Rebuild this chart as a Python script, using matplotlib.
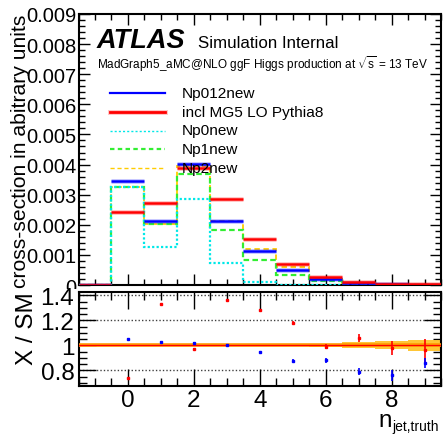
import numpy as np
import matplotlib
matplotlib.use("Agg")
import matplotlib.pyplot as plt
from matplotlib.ticker import MultipleLocator, FixedLocator, FixedFormatter
from matplotlib.patches import Rectangle

plt.rcParams['font.family'] = ['Liberation Sans', 'DejaVu Sans']
plt.rcParams['mathtext.fontset'] = 'custom'
plt.rcParams['mathtext.rm'] = 'Liberation Sans'
plt.rcParams['mathtext.it'] = 'Liberation Sans:italic'
plt.rcParams['mathtext.bf'] = 'Liberation Sans:bold'

# ---------------- data ----------------
bin_edges = [-1.5, -0.5, 0.5, 1.5, 2.5, 3.5, 4.5, 5.5, 6.5, 7.5, 8.5, 9.5]
bin_centers = [-1, 0, 1, 2, 3, 4, 5, 6, 7, 8, 9]

np012new = [0.0, 0.00344, 0.00211, 0.00403, 0.00213, 0.00112, 0.00051, 0.00021, 0.00006, 0.00002, 0.000005]
incl_mg5 = [0.0, 0.00243, 0.00273, 0.00387, 0.00287, 0.00154, 0.00070, 0.00025, 0.00009, 0.00003, 0.00002]
np0new = [0.0, 0.00327, 0.00126, 0.00286, 0.00072, 0.00010, 0.0, 0.0, 0.0, 0.0, 0.0]
np1new = [0.0, 0.00327, 0.00203, 0.00369, 0.00181, 0.00083, 0.00032, 0.00012, 0.00001, 0.0, 0.0]
np2new = [0.0, 0.00327, 0.00203, 0.00394, 0.00213, 0.00120, 0.00059, 0.00021, 0.00006, 0.00002, 0.0]

ratio_x = [0, 1, 2, 3, 4, 5, 6, 7, 8, 9]
ratio_red = [0.736, 1.33, 0.97, 1.366, 1.284, 1.181, 0.988, 1.059, 0.98, 0.96]
ratio_red_err = [0.005, 0.006, 0.006, 0.006, 0.008, 0.013, 0.02, 0.03, 0.054, 0.09]
ratio_blue = [1.05, 1.026, 1.018, 1.005, 0.945, 0.877, 0.88, 0.79, 0.762, 0.86]
ratio_blue_err = [0.005, 0.005, 0.005, 0.005, 0.008, 0.01, 0.02, 0.028, 0.044, 0.04]
band_halfwidth = [0.002, 0.002, 0.002, 0.002, 0.002, 0.003, 0.005, 0.013, 0.023, 0.033, 0.043]

legend_labels = ["Np012new", "incl MG5 LO Pythia8", "Np0new", "Np1new", "Np2new"]

# ---------------- figure ----------------
W, H = 443, 435
fig = plt.figure(figsize=(W / 100, H / 100), dpi=100)

def fx(px):
    return px / W

def fy(py):
    return 1 - py / H

L, R = 78.5, 441.0
ax1 = fig.add_axes([fx(L), fy(286), fx(R) - fx(L), fy(15) - fy(286)])
ax2 = fig.add_axes([fx(L), fy(387), fx(R) - fx(L), fy(292.5) - fy(387)])
ax1.set_zorder(0)
ax2.set_zorder(2)
# white lower pad region hides the lower part of the top panel's "0" label (as in ROOT)
fig.add_artist(Rectangle((0, 0), fx(L), fy(289.5), transform=fig.transFigure,
                         facecolor='white', edgecolor='none', zorder=1))

edges = np.array(bin_edges)
c_blue = '#0000FF'
c_red = '#FF0000'
c_cyan = '#00E8E8'
c_green = '#33EE33'
c_yellow = '#FFCC00'

# top panel histograms
ax1.stairs(np2new, edges, baseline=0, color=c_yellow, lw=1.3, ls=(0, (3, 2)), zorder=2)
ax1.stairs(np1new, edges, baseline=0, color=c_green, lw=1.6, ls=(0, (2.5, 1.5)), zorder=3)
ax1.stairs(np0new, edges, baseline=0, color=c_cyan, lw=1.6, ls=(0, (1, 1)), zorder=3)
ax1.hlines(np012new, edges[:-1], edges[1:], colors=c_blue, lw=3.6, alpha=0.22, zorder=4)
ax1.hlines(np012new, edges[:-1], edges[1:], colors=c_blue, lw=1.8, zorder=5)
ax1.hlines(incl_mg5, edges[:-1], edges[1:], colors=c_red, lw=3.6, alpha=0.22, zorder=4)
ax1.hlines(incl_mg5, edges[:-1], edges[1:], colors=c_red, lw=1.8, zorder=5)

ax1.set_xlim(-1.5, 9.5)
ax1.set_ylim(0, 0.009)
ax1.xaxis.set_major_locator(MultipleLocator(2))
ax1.xaxis.set_minor_locator(MultipleLocator(0.5))
ax1.yaxis.set_major_locator(MultipleLocator(0.001))
ax1.yaxis.set_minor_locator(MultipleLocator(0.0002))
ax1.yaxis.set_major_formatter(plt.FuncFormatter(lambda v, p: '0' if abs(v) < 1e-12 else f'{v:.3f}'))
ax1.tick_params(axis='both', which='both', direction='in', top=True, right=True, width=1.0)
ax1.tick_params(axis='both', which='major', length=8)
ax1.tick_params(axis='both', which='minor', length=4)
ax1.tick_params(axis='x', labelbottom=False)
ax1.tick_params(axis='y', labelsize=14.5, pad=1.5)
for s in ax1.spines.values():
    s.set_linewidth(1.5)

# legend drawn by hand
leg_y = [94, 113, 131.5, 150, 168.5]
leg_styles = [
    dict(color=c_blue, lw=1.6, ls='-'),
    dict(color=c_red, lw=2.0, ls='-'),
    dict(color=c_cyan, lw=1.0, ls=(0, (1.5, 1.5))),
    dict(color=c_green, lw=1.6, ls=(0, (2, 1.5))),
    dict(color=c_yellow, lw=1.0, ls=(0, (3, 2))),
]
for lab, yy, st in zip(legend_labels, leg_y, leg_styles):
    if st['color'] == c_red:
        fig.add_artist(plt.Line2D([fx(110), fx(165)], [fy(yy), fy(yy)], color=c_red, lw=3.6, alpha=0.22))
    fig.add_artist(plt.Line2D([fx(110), fx(165)], [fy(yy), fy(yy)], **st))
    fig.text(fx(182), fy(yy), lab, fontsize=11.1, va='center', ha='left')

# ATLAS labels
fig.text(fx(97), fy(48), 'ATLAS', fontsize=19.5, fontweight='bold', style='italic', va='baseline')
fig.text(fx(198), fy(48), 'Simulation Internal', fontsize=12.2, va='baseline')
fig.text(fx(97), fy(68.5), r'MadGraph5_aMC@NLO ggF Higgs production at $\sqrt{\mathrm{s}}$ = 13 TeV',
         fontsize=8.5, va='baseline')

# ratio panel
xb = edges
band = np.array(band_halfwidth)
ax2.fill_between(xb, np.r_[1 - band, 1 - band[-1]], np.r_[1 + band, 1 + band[-1]],
                 step='post', color='#FFC020', alpha=0.9, lw=0, zorder=2)
ax2.axhline(1.0, color='#FF9900', lw=2.6, zorder=3)
ax2.axhline(1.0, color=c_red, lw=0.9, zorder=4)
for g in [0.8, 1.2, 1.4]:
    ax2.axhline(g, color='0.25', lw=1.0, ls=(0, (1, 1.5)), zorder=1)
ax2.errorbar(ratio_x, ratio_red, yerr=ratio_red_err, fmt='s', ms=2, color=c_red,
             elinewidth=1.2, capsize=0, zorder=5)
ax2.errorbar(ratio_x, ratio_blue, yerr=ratio_blue_err, fmt='s', ms=2, color=c_blue,
             elinewidth=1.2, capsize=0, zorder=5)

ax2.set_xlim(-1.5, 9.5)
ax2.set_ylim(0.674, 1.43)
ax2.xaxis.set_major_locator(MultipleLocator(2))
ax2.xaxis.set_minor_locator(MultipleLocator(0.5))
ax2.yaxis.set_major_locator(FixedLocator([0.8, 1.0, 1.2, 1.4]))
ax2.yaxis.set_major_formatter(FixedFormatter(['0.8', '1', '1.2', '1.4']))
ax2.yaxis.set_minor_locator(MultipleLocator(0.05))
ax2.tick_params(axis='both', which='both', direction='in', top=True, right=True, width=1.0)
ax2.tick_params(axis='both', which='major', length=12)
ax2.tick_params(axis='both', which='minor', length=6)
ax2.tick_params(axis='x', labelsize=17.5, pad=2)
ax2.tick_params(axis='y', labelsize=17.5, pad=3)
for s in ax2.spines.values():
    s.set_linewidth(1.5)

# axis titles
fig.text(fx(20.5), fy(15), 'cross-section in abitrary units', rotation=90, fontsize=15.2,
         va='top', ha='center', zorder=5)
fig.text(fx(27), fy(292), 'X / SM', rotation=90, fontsize=17.5, va='top', ha='center', zorder=5)
fig.text(fx(439), fy(431), 'jet,truth', fontsize=10, ha='right', va='baseline', zorder=5)
fig.text(fx(392), fy(427), 'n', fontsize=17.5, ha='right', va='baseline', zorder=5)

fig.savefig('out.png', dpi=100)
